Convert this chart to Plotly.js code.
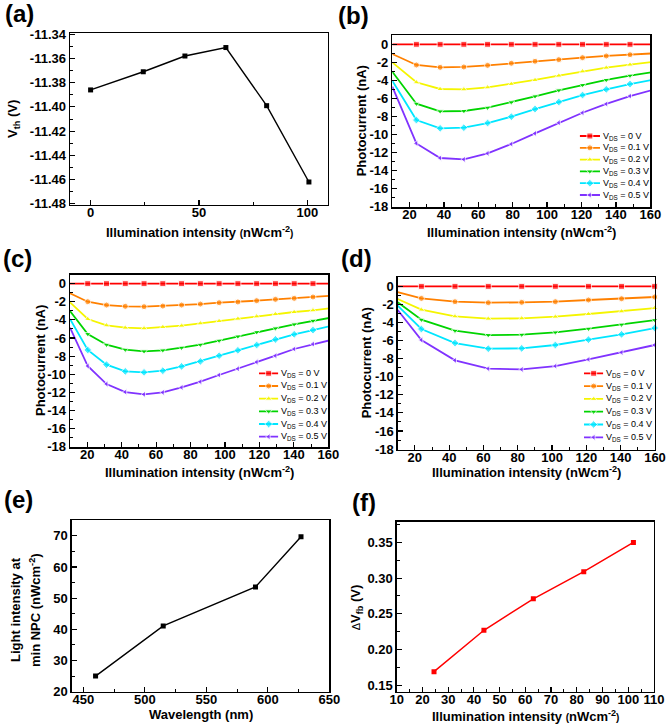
<!DOCTYPE html>
<html>
<head>
<meta charset="utf-8">
<script src="https://cdn.plot.ly/plotly-3.0.1.min.js"></script>
<style>
  html, body { margin: 0; padding: 0; background: #fff; }
  #chart { width: 666px; height: 726px; }
</style>
</head>
<body>
<div id="chart"></div>
<script>
// ---------- (a) threshold voltage vs illumination intensity ----------
const aIntensity = [0, 24.3, 43.5, 62.4, 81.2, 100.7];
const aVth = [-11.386, -11.371, -11.358, -11.351, -11.399, -11.462];
const aYTickVals = [-11.48, -11.46, -11.44, -11.42, -11.40, -11.38, -11.36, -11.34];
const aYTickText = ['-11.48', '-11.46', '-11.44', '-11.42', '-11.40', '-11.38', '-11.36', '-11.34'];

// ---------- shared photocurrent axis ticks and series names ----------
const photoTickVals = [-18, -16, -14, -12, -10, -8, -6, -4, -2, 0];
const photoTickText = ['-18', '-16', '-14', '-12', '-10', '-8', '-6', '-4', '-2', '0'];
const vdsNames = ['V<sub>DS</sub> = 0 V', 'V<sub>DS</sub> = 0.1 V', 'V<sub>DS</sub> = 0.2 V',
                  'V<sub>DS</sub> = 0.3 V', 'V<sub>DS</sub> = 0.4 V', 'V<sub>DS</sub> = 0.5 V'];

// ---------- (b) photocurrent vs intensity ----------
const bIntensity = [10, 24, 37.8, 51.6, 65.4, 79.2, 93, 106.8, 120.6, 134.4, 148.2, 162];
const bVds00 = [0, 0, 0, 0, 0, 0, 0, 0, 0, 0, 0, 0];
const bVds01 = [-1.07, -2.29, -2.55, -2.51, -2.33, -2.10, -1.88, -1.70, -1.48, -1.29, -1.15, -1.00];
const bVds02 = [-2.00, -4.21, -4.95, -4.99, -4.77, -4.40, -3.95, -3.47, -2.99, -2.59, -2.25, -1.94];
const bVds03 = [-3.03, -6.58, -7.43, -7.39, -7.02, -6.43, -5.76, -5.10, -4.51, -3.95, -3.47, -3.07];
const bVds04 = [-4.03, -8.39, -9.31, -9.24, -8.72, -8.02, -7.17, -6.39, -5.62, -4.99, -4.40, -3.92];
const bVds05 = [-4.69, -10.98, -12.60, -12.75, -12.08, -11.05, -9.87, -8.68, -7.58, -6.61, -5.73, -5.02];

// ---------- (c) photocurrent vs intensity ----------
const cIntensity = [10, 20.3, 31.2, 42.1, 53, 63.9, 74.8, 85.7, 96.6, 107.5, 118.4, 129.3, 140.2, 151.1, 162];
const cVds00 = [0, 0, 0, 0, 0, 0, 0, 0, 0, 0, 0, 0, 0, 0, 0];
const cVds01 = [-1.07, -1.99, -2.36, -2.50, -2.54, -2.47, -2.36, -2.25, -2.10, -2.02, -1.88, -1.73, -1.62, -1.47, -1.34];
const cVds02 = [-2.06, -3.90, -4.60, -4.86, -4.93, -4.78, -4.64, -4.38, -4.12, -3.86, -3.61, -3.35, -3.13, -2.94, -2.70];
const cVds03 = [-3.02, -5.56, -6.74, -7.29, -7.47, -7.36, -7.07, -6.74, -6.29, -5.82, -5.34, -4.93, -4.49, -4.09, -3.73];
const cVds04 = [-3.90, -7.32, -8.94, -9.68, -9.79, -9.61, -9.13, -8.58, -7.95, -7.36, -6.77, -6.15, -5.59, -5.12, -4.65];
const cVds05 = [-4.86, -9.09, -11.08, -11.96, -12.22, -12.00, -11.45, -10.82, -10.08, -9.39, -8.65, -7.95, -7.21, -6.66, -6.20];

// ---------- (d) photocurrent vs intensity ----------
const dIntensity = [10, 23.8, 43.4, 62.8, 82.3, 101.9, 121.2, 140.5, 159.8];
const dVds00 = [0, 0, 0, 0, 0, 0, 0, 0, 0];
const dVds01 = [-0.63, -1.33, -1.70, -1.81, -1.77, -1.70, -1.51, -1.37, -1.18];
const dVds02 = [-1.40, -2.58, -3.32, -3.58, -3.54, -3.36, -3.06, -2.77, -2.40];
const dVds03 = [-1.77, -3.69, -4.91, -5.39, -5.35, -5.09, -4.69, -4.24, -3.73];
const dVds04 = [-2.14, -4.72, -6.27, -6.90, -6.86, -6.49, -5.90, -5.31, -4.61];
const dVds05 = [-2.62, -5.94, -8.19, -9.11, -9.19, -8.82, -8.08, -7.31, -6.49];

// ---------- (e) light intensity at minimum NPC vs wavelength ----------
const eWavelength = [460, 515, 590, 627];
const eIntensityMin = [25.0, 41.1, 53.6, 69.7];

// ---------- (f) flat-band shift vs intensity ----------
const fIntensity = [24.5, 43.9, 63.1, 82.7, 102];
const fDeltaVfb = [0.169, 0.227, 0.271, 0.309, 0.350];

// ================= drawing =================
const W = 666, H = 726;
const FONT = '"Liberation Sans", Arial, sans-serif';
const px = v => v / W;           // pixel -> paper x
const py = v => 1 - v / H;       // pixel -> paper y

const seriesStyle = [
  { color: '#FF0000', symbol: 'square' },
  { color: '#FF8000', symbol: 'circle' },
  { color: '#F5F500', symbol: 'triangle-up' },
  { color: '#00D400', symbol: 'triangle-down' },
  { color: '#00E6FF', symbol: 'diamond' },
  { color: '#8033FF', symbol: 'triangle-left' }
];

function frameAxis(domain, range, extra) {
  return Object.assign({
    domain: domain, range: range,
    showline: true, mirror: true, linecolor: '#000', linewidth: 1.4,
    ticks: 'inside', ticklen: 5, tickwidth: 1.2, tickcolor: '#000',
    showgrid: false, zeroline: false, fixedrange: true,
    tickfont: { family: FONT, size: 13, color: '#000', weight: 'bold' }
  }, extra);
}
function minorTicks(dtick, tick0) {
  return { tickmode: 'linear', dtick: dtick, tick0: tick0, ticks: 'inside', ticklen: 3,
           tickwidth: 1, tickcolor: '#000', showgrid: false };
}

const traces = [];

// (a)
traces.push({
  x: aIntensity, y: aVth, xaxis: 'x', yaxis: 'y', mode: 'lines+markers',
  line: { color: '#000', width: 1.4 },
  marker: { symbol: 'square', size: 5, color: '#000' }, showlegend: false
});

// (b)-(d) photocurrent families; points on or past the frame edge carry no marker
function photoFamily(xs, sets, xa, ya, lo, hi) {
  sets.forEach((ys, i) => {
    const st = seriesStyle[i];
    traces.push({
      x: xs, y: ys, xaxis: xa, yaxis: ya, mode: 'lines+markers', cliponaxis: false,
      line: { color: st.color, width: 1.8 },
      marker: { symbol: st.symbol, color: st.color,
                size: xs.map(v => (v <= lo || v > hi) ? 0 : 6) },
      showlegend: false
    });
  });
}
photoFamily(bIntensity, [bVds00, bVds01, bVds02, bVds03, bVds04, bVds05], 'x2', 'y2', 10, 160);
photoFamily(cIntensity, [cVds00, cVds01, cVds02, cVds03, cVds04, cVds05], 'x3', 'y3', 10, 160);
photoFamily(dIntensity, [dVds00, dVds01, dVds02, dVds03, dVds04, dVds05], 'x4', 'y4', 10, 160);

// (e)
traces.push({
  x: eWavelength, y: eIntensityMin, xaxis: 'x5', yaxis: 'y5', mode: 'lines+markers',
  line: { color: '#000', width: 1.4 },
  marker: { symbol: 'square', size: 5, color: '#000' }, showlegend: false
});

// (f)
traces.push({
  x: fIntensity, y: fDeltaVfb, xaxis: 'x6', yaxis: 'y6', mode: 'lines+markers',
  line: { color: '#FF0000', width: 1.5 },
  marker: { symbol: 'square', size: 5, color: '#FF0000' }, showlegend: false
});

// legend keys for (b)-(d): small line samples on their own axes
const legendBoxes = [
  { xa: 'x7', ya: 'y7', x0: 579.7, x1: 600, r0: 136, r5: 195 },
  { xa: 'x8', ya: 'y8', x0: 259,   x1: 278.3, r0: 373.3, r5: 436.7 },
  { xa: 'x9', ya: 'y9', x0: 584,   x1: 603.3, r0: 373.3, r5: 437.3 }
];
const annotations = [];
legendBoxes.forEach(box => {
  vdsNames.forEach((name, i) => {
    const st = seriesStyle[i];
    traces.push({
      x: [0, 0.5, 1], y: [i, i, i], xaxis: box.xa, yaxis: box.ya, mode: 'lines+markers',
      cliponaxis: false, line: { color: st.color, width: 1.8 },
      marker: { symbol: st.symbol, color: st.color, size: [0, 6, 0] }, showlegend: false
    });
    annotations.push({
      xref: box.xa, yref: box.ya, x: 1, y: i, xanchor: 'left', yanchor: 'middle', xshift: 1,
      text: name, showarrow: false,
      font: { family: FONT, size: 9, color: '#000' }
    });
  });
});

// panel letters
[['(a)', 19.5, 14], ['(b)', 353.8, 15], ['(c)', 17.5, 258.3],
 ['(d)', 356.3, 258.3], ['(e)', 18.3, 499], ['(f)', 363.8, 502.5]].forEach(p => {
  annotations.push({
    xref: 'paper', yref: 'paper', x: px(p[1]), y: py(p[2]), xanchor: 'center', yanchor: 'middle',
    text: p[0], showarrow: false, font: { family: FONT, size: 24, color: '#000', weight: 'bold' }
  });
});

// axis titles
const smallParen = s => '<span style="font-size:10px">' + s + '</span>';
const intensityTitleSmall = 'Illumination intensity ' + smallParen('(') + 'nWcm<sup>-2</sup>' + smallParen(')');
const intensityTitle = 'Illumination intensity (nWcm<sup>-2</sup>)';
const titleFont = { family: FONT, size: 13, color: '#000', weight: 'bold' };
[
  [intensityTitleSmall, 199, 232, 0],
  ['V<sub>th</sub> (V)', 14, 119, -90],
  [intensityTitle, 521.3, 232, 0],
  ['Photocurrent (nA)', 362.3, 121, -90],
  [intensityTitle, 199, 472, 0],
  ['Photocurrent (nA)', 40, 361, -90],
  [intensityTitle, 526.4, 472, 0],
  ['Photocurrent (nA)', 366.3, 363, -90],
  ['Wavelength (nm)', 200.5, 714, 0],
  ['Light intensity at', 15, 610, -90],
  ['min NPC (nWcm<sup>-2</sup>)', 35, 610, -90],
  [intensityTitleSmall, 525.5, 716, 0],
  ['<span style="font-weight:normal;font-size:11px">\u0394</span>V<sub>fb</sub> (V)', 356.3, 607, -90]
].forEach(t => {
  annotations.push({
    xref: 'paper', yref: 'paper', x: px(t[1]), y: py(t[2]), xanchor: 'center', yanchor: 'middle',
    text: t[0], textangle: t[3], showarrow: false, font: titleFont
  });
});

const X_LABEL_STANDOFF = -5;
const photoY = (top, bottom) => frameAxis([py(bottom), py(top)], [-18.05, 1], {
  tickmode: 'array', tickvals: photoTickVals, ticktext: photoTickText, minor: minorTicks(1, 0)
});
const photoX = (left, right, anchor) => frameAxis([px(left), px(right)], [10, 160], {
  anchor: anchor, tickmode: 'linear', tick0: 0, dtick: 20, minor: minorTicks(10, 0),
  ticklabelstandoff: X_LABEL_STANDOFF
});
const legendAxis = (d, r, anchor) => ({
  domain: d, range: r, visible: false, fixedrange: true, anchor: anchor
});

const layout = {
  width: W, height: H, margin: { l: 0, r: 0, t: 0, b: 0 },
  paper_bgcolor: '#fff', plot_bgcolor: 'rgba(0,0,0,0)', showlegend: false,
  font: { family: FONT, color: '#000' },
  // (a)
  xaxis: frameAxis([px(70), px(328)], [-9.5, 109.5], {
    anchor: 'y', tickmode: 'linear', tick0: 0, dtick: 50, minor: minorTicks(25, 0),
    ticklabelstandoff: X_LABEL_STANDOFF
  }),
  yaxis: frameAxis([py(205), py(33)], [-11.481, -11.339], {
    anchor: 'x', tickmode: 'array', tickvals: aYTickVals, ticktext: aYTickText,
    minor: minorTicks(0.01, -11.48)
  }),
  // (b)
  xaxis2: photoX(392.3, 650.3, 'y2'),
  yaxis2: Object.assign(photoY(35.3, 207.2), { anchor: 'x2' }),
  // (c)
  xaxis3: photoX(70, 328.3, 'y3'),
  yaxis3: Object.assign(photoY(274.6, 447.2), { anchor: 'x3' }),
  // (d)
  xaxis4: photoX(397.7, 655, 'y4'),
  yaxis4: Object.assign(photoY(277.3, 449.5), { anchor: 'x4' }),
  // (e)
  xaxis5: frameAxis([px(71.7), px(329.3)], [440.6, 650], {
    anchor: 'y5', tickmode: 'linear', tick0: 450, dtick: 50, minor: minorTicks(25, 450),
    ticklabelstandoff: X_LABEL_STANDOFF
  }),
  yaxis5: frameAxis([py(691.7), py(520)], [20, 75.1], {
    anchor: 'x5', tickmode: 'linear', tick0: 20, dtick: 10, minor: minorTicks(5, 20)
  }),
  // (f)
  xaxis6: frameAxis([px(396.7), px(654)], [10, 110], {
    anchor: 'y6', tickmode: 'linear', tick0: 10, dtick: 10, minor: minorTicks(5, 10),
    ticklabelstandoff: X_LABEL_STANDOFF
  }),
  yaxis6: frameAxis([py(691.7), py(521.7)], [0.141, 0.379], {
    anchor: 'x6', tickmode: 'linear', tick0: 0.15, dtick: 0.05, tickformat: '.2f',
    minor: minorTicks(0.025, 0.15)
  }),
  annotations: annotations
};

// legend key axes
legendBoxes.forEach((box, k) => {
  const s = (box.r5 - box.r0) / 5;
  const n = 7 + k;
  layout['xaxis' + n] = legendAxis([px(box.x0), px(box.x1)], [0, 1], 'y' + n);
  layout['yaxis' + n] = legendAxis([py(box.r5 + s / 2), py(box.r0 - s / 2)], [5.5, -0.5], 'x' + n);
});

Plotly.newPlot('chart', traces, layout, { staticPlot: true, displayModeBar: false });
</script>
</body>
</html>
